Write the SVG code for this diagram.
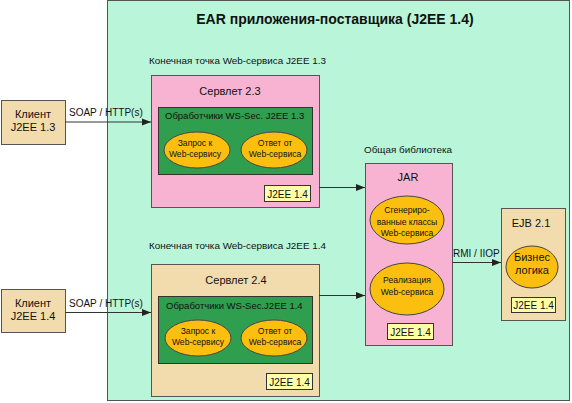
<svg xmlns="http://www.w3.org/2000/svg" width="572" height="403" viewBox="0 0 572 403">
<defs>
<marker id="arr" markerWidth="10" markerHeight="8" refX="9" refY="4" orient="auto" markerUnits="userSpaceOnUse">
<path d="M0,0.5 L9,4 L0,7.5 Z" fill="#222"/>
</marker>
</defs>
<style>
text{font-family:"Liberation Sans","DejaVu Sans",sans-serif;fill:#111;}
.box{stroke:#555;stroke-width:1;}
.ear{fill:#b9f6d9;}
.pink{fill:#f7b3d1;}
.beige{fill:#f2dcae;}
.green{fill:#2f9e4f;stroke:#333;stroke-width:1;}
.ell{fill:#fcbf10;stroke:#444;stroke-width:1;}
.tag{fill:#ffffa8;stroke:#333;stroke-width:1;}
.t11{font-size:11px;}
.t10{font-size:10px;}
.tl{font-size:9.9px;}
.th{font-size:9.5px;}
.t9{font-size:8.6px;}
.c{text-anchor:middle;}
.conn{stroke:#333;stroke-width:1;fill:none;marker-end:url(#arr);}
</style>
<rect width="572" height="403" fill="#ffffff"/>

<g id="ear">
<rect class="box ear" x="107.5" y="0.5" width="462" height="400"/>
<text x="335" y="24" class="c" style="font-size:14px;font-weight:bold">EAR приложения-поставщика (J2EE 1.4)</text>
</g>

<g id="client13">
<rect class="box beige" x="1.5" y="100.5" width="64" height="44"/>
<text x="33" y="118" class="c t11">Клиент</text>
<text x="33" y="131" class="c t11">J2EE 1.3</text>
</g>

<g id="client14">
<rect class="box beige" x="1.5" y="289.5" width="64" height="43"/>
<text x="33" y="307" class="c t11">Клиент</text>
<text x="33" y="320" class="c t11">J2EE 1.4</text>
</g>

<g id="endpoint13">
<text x="149" y="64" class="tl">Конечная точка Web-сервиса J2EE 1.3</text>
<rect class="box pink" x="151.5" y="75.5" width="168" height="132"/>
<text x="230" y="95" class="c t11">Сервлет 2.3</text>
<rect class="green" x="158.5" y="107.5" width="154" height="67"/>
<text x="165" y="119" class="th">Обработчики WS-Sec. J2EE 1.3</text>
<ellipse class="ell" cx="197" cy="150" rx="33" ry="18"/>
<text x="195" y="146" class="c t9">Запрос к</text>
<text x="195" y="157" class="c t9">Web-сервису</text>
<ellipse class="ell" cx="274" cy="150" rx="33" ry="18"/>
<text x="275" y="146" class="c t9">Ответ от</text>
<text x="275" y="157" class="c t9">Web-сервиса</text>
<rect class="tag" x="264.5" y="185.5" width="46" height="16"/>
<text x="287.5" y="197.5" class="c t10">J2EE 1.4</text>
</g>

<g id="endpoint14">
<text x="149" y="249" class="tl">Конечная точка Web-сервиса J2EE 1.4</text>
<rect class="box beige" x="151.5" y="264.5" width="168" height="132"/>
<text x="236" y="284" class="c t11">Сервлет 2.4</text>
<rect class="green" x="158.5" y="296.5" width="154" height="67"/>
<text x="166" y="309" class="th">Обработчики WS-Sec.J2EE 1.4</text>
<ellipse class="ell" cx="198" cy="338" rx="33" ry="18"/>
<text x="198" y="334" class="c t9">Запрос к</text>
<text x="198" y="345" class="c t9">Web-сервису</text>
<ellipse class="ell" cx="274" cy="338" rx="33" ry="18"/>
<text x="275" y="334" class="c t9">Ответ от</text>
<text x="275" y="345" class="c t9">Web-сервиса</text>
<rect class="tag" x="266.5" y="373.5" width="46" height="16"/>
<text x="289.5" y="385.5" class="c t10">J2EE 1.4</text>
</g>

<g id="library">
<text x="364" y="153" class="tl">Общая библиотека</text>
<rect class="box pink" x="365.5" y="163.5" width="87" height="182"/>
<text x="408" y="181" class="c t11">JAR</text>
<ellipse class="ell" cx="407" cy="220" rx="37" ry="24"/>
<text x="407" y="213" class="c t9">Сгенериро-</text>
<text x="407" y="225" class="c t9">ванные классы</text>
<text x="407" y="236" class="c t9">Web-сервиса</text>
<ellipse class="ell" cx="407" cy="289" rx="37" ry="26"/>
<text x="407" y="283" class="c t9">Реализация</text>
<text x="407" y="295" class="c t9">Web-сервиса</text>
<rect class="tag" x="387.5" y="323.5" width="46" height="16"/>
<text x="410.5" y="335.5" class="c t10">J2EE 1.4</text>
</g>

<g id="ejb">
<rect class="box beige" x="501.5" y="208.5" width="64" height="112"/>
<text x="531" y="227" class="c t11">EJB 2.1</text>
<ellipse class="ell" cx="532" cy="267" rx="26" ry="21"/>
<text x="532" y="261" class="c t11">Бизнес</text>
<text x="532" y="274" class="c t11">логика</text>
<rect class="tag" x="511.5" y="297.5" width="44" height="15"/>
<text x="533.5" y="309" class="c t10">J2EE 1.4</text>
</g>

<g id="connectors">
<line class="conn" x1="65" y1="122" x2="151" y2="122"/>
<text x="69" y="116" class="t10">SOAP / HTTP(s)</text>
<line class="conn" x1="65" y1="312.5" x2="151" y2="312.5"/>
<text x="69" y="307" class="t10">SOAP / HTTP(s)</text>
<line class="conn" x1="319" y1="187.5" x2="365" y2="187.5"/>
<line class="conn" x1="319" y1="295.5" x2="365" y2="295.5"/>
<line class="conn" x1="452" y1="262.5" x2="501" y2="262.5"/>
<text x="453" y="257" class="t10">RMI / IIOP</text>
</g>
</svg>
